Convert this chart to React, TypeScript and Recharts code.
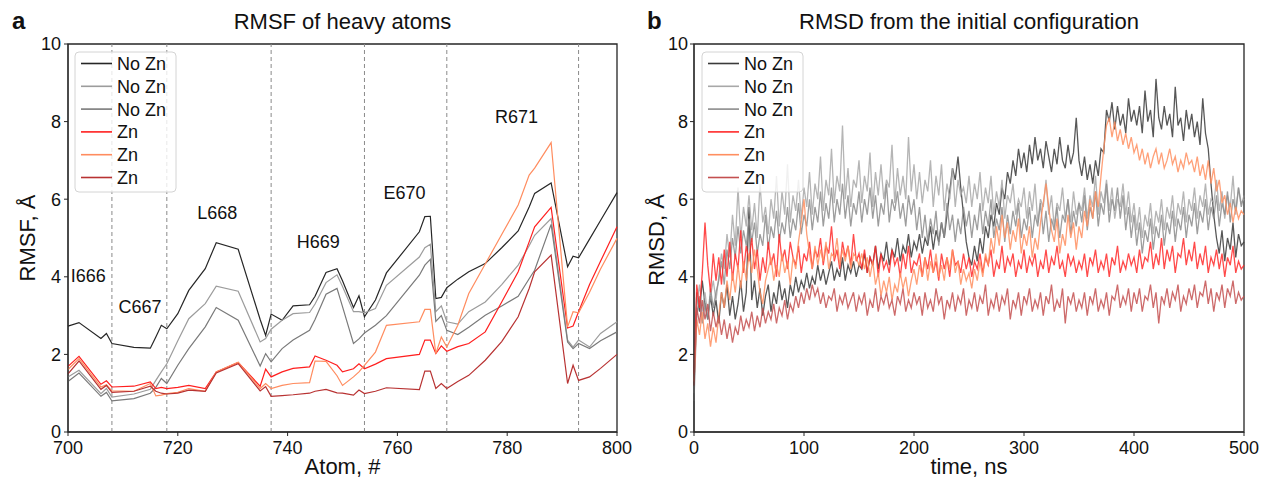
import React from "react";
import {
  Label,
  Line,
  LineChart,
  ReferenceArea,
  ReferenceDot,
  ReferenceLine,
  XAxis,
  YAxis,
} from "recharts";

// ---- panel a: RMSF per heavy atom ----
const ATOMS = [
  700, 702, 706, 707, 708, 712, 715, 716, 717, 718,
  720, 722, 725, 727, 731, 735, 736, 737, 739, 741,
  744, 745, 747, 749, 750, 752, 753, 754, 756, 758,
  764, 765, 766, 767, 768, 769, 771, 773, 776, 779,
  782, 784, 785, 788, 791, 792, 793, 795, 797, 800,
];
const RMSF_NOZN_1 = [
  2.73, 2.82, 2.41, 2.54, 2.28, 2.18, 2.16, 2.45, 2.75, 2.66,
  3.05, 3.65, 4.21, 4.88, 4.71, 2.9, 2.49, 3.04, 2.88, 3.25,
  3.28, 3.5, 4.11, 4.21, 3.9, 3.21, 3.51, 2.97, 3.4, 4.1,
  5.16, 5.55, 5.56, 3.44, 3.47, 3.72, 3.94, 4.13, 4.34, 4.75,
  5.18, 5.8, 6.15, 6.42, 4.26, 4.53, 4.49, 4.97, 5.45, 6.17,
];
const RMSF_NOZN_2 = [
  1.42, 1.59, 0.99, 1.12, 0.9, 0.98, 1.1, 1.33, 1.55, 1.76,
  2.35, 2.92, 3.31, 3.76, 3.63, 2.32, 2.41, 2.65, 2.88, 3.05,
  3.08, 3.3, 3.85, 4.05, 3.75, 3.1, 3.1, 3.07, 3.18, 3.78,
  4.51, 4.75, 4.84, 3.1, 3.25, 2.84, 2.78, 3.1, 3.35, 3.8,
  4.3, 4.8, 5.07, 5.5, 2.37, 2.19, 2.37, 2.19, 2.54, 2.84,
];
const RMSF_NOZN_3 = [
  1.3, 1.52, 0.92, 1.02, 0.8, 0.86, 1.0, 1.15, 1.38, 1.25,
  1.72, 2.15, 2.71, 3.21, 2.88, 1.7, 2.02, 1.81, 2.15, 2.37,
  2.62, 2.9, 3.55, 3.7, 3.23, 2.28, 2.4, 2.55, 2.75, 3.0,
  4.04, 4.3, 4.45, 2.85, 3.0, 2.62, 2.51, 2.7, 3.01, 3.25,
  3.5, 3.95, 4.17, 5.35, 2.32, 2.15, 2.28, 2.15, 2.35, 2.58,
];
const RMSF_ZN_1 = [
  1.69, 1.95, 1.23, 1.32, 1.16, 1.18, 1.29, 1.12, 1.15, 1.12,
  1.15, 1.2, 1.12, 1.55, 1.79, 1.18, 1.62, 1.42, 1.55, 1.64,
  1.68, 1.96, 1.85, 1.72, 1.55, 1.63, 1.76, 1.63, 1.75, 1.89,
  2.0, 2.37, 2.37, 2.02, 2.22, 2.08, 2.2, 2.28, 2.58, 3.35,
  4.13, 4.9, 5.29, 5.79, 2.68, 2.73, 3.1, 3.8, 4.4, 5.29,
];
const RMSF_ZN_2 = [
  1.61, 1.89, 1.16, 1.22, 1.06, 1.05, 1.25, 0.93, 0.95, 0.99,
  1.02, 1.12, 1.05, 1.55, 1.8, 1.12, 1.25, 1.12, 1.2, 1.25,
  1.27, 1.83, 1.82, 1.45, 1.2, 1.42, 1.55, 1.72, 2.06, 2.75,
  2.84, 3.16, 3.16, 2.02, 2.45, 2.19, 2.75, 3.57, 4.33, 5.09,
  5.85, 6.62, 6.8, 7.46, 2.71, 3.1, 3.07, 3.6, 4.2, 4.99,
];
const RMSF_ZN_3 = [
  1.5, 1.83, 1.1, 1.2, 1.02, 1.05, 1.18, 1.05, 1.0, 0.98,
  1.0, 1.08, 1.05, 1.52, 1.76, 1.06, 1.17, 0.92, 0.94, 0.96,
  1.0, 1.05, 1.1, 1.01, 1.0, 0.95, 1.08, 0.99, 1.05, 1.14,
  1.09, 1.57, 1.57, 1.12, 1.25, 1.12, 1.3, 1.46, 1.85, 2.33,
  2.97, 3.7, 4.13, 4.56, 1.25, 1.72, 1.33, 1.42, 1.64, 2.0,
];
const RESIDUE_BOUNDARIES = [708, 718, 737, 754, 769, 793];
const RESIDUE_NAMES = ["I666", "C667", "L668", "H669", "E670", "R671"];
const RESIDUE_NAME_X = [703.7, 713.1, 727.2, 745.6, 761.3, 781.7];
const RESIDUE_NAME_Y = [4.04, 3.22, 5.65, 4.9, 6.17, 8.14];
const ATOM_TICKS = [700, 720, 740, 760, 780, 800];

// ---- panel b: RMSD vs time, one frame every 2.5 ns ----
const TIME_NS = Array.from({ length: 201 }, (_, i) => i * 2.5);
const RMSD_NOZN_1 = [
  1.2,
  3.6, 3.1, 3.9, 3.3, 2.9, 3.5, 3.0, 3.4,
  2.8, 3.6, 3.2, 3.8, 3.0, 3.5, 2.9, 3.3, 3.9, 3.1, 3.6, 5.8,
  3.4, 3.9, 3.2, 3.7, 3.0, 3.5, 3.8, 3.1, 3.6, 3.3, 3.9, 3.4, 3.7, 3.2, 3.8, 3.5, 4.0, 3.6, 3.9, 3.7,
  4.1, 3.7, 4.0, 3.8, 4.3, 3.9, 4.2, 3.8, 4.1, 4.4, 3.9, 4.2, 4.0, 4.5, 3.9, 4.3, 4.1, 4.4, 4.0, 4.3,
  4.2, 4.6, 4.1, 4.5, 4.3, 4.8, 4.2, 4.6, 4.4, 4.9, 4.3, 4.7, 4.5, 5.0, 4.4, 4.8, 4.6, 5.1, 4.5, 4.9,
  4.7, 5.1, 4.6, 5.0, 4.8, 5.3, 4.7, 5.2, 4.9, 5.4, 5.0, 5.6, 6.2, 6.8, 6.5, 7.1, 6.3, 5.6, 4.9, 4.5,
  4.3, 4.8, 4.4, 5.0, 4.6, 5.3, 5.0, 5.6, 5.3, 5.9, 5.6, 6.3, 6.0, 6.7, 6.4, 7.0, 6.6, 7.3, 6.8, 7.2,
  6.7, 7.4, 6.9, 7.6, 7.0, 7.3, 6.8, 7.5, 7.1, 6.7, 7.3, 6.9, 7.6, 7.0, 6.8, 7.4, 6.9, 7.2, 8.1, 7.0,
  6.6, 7.1, 6.5, 6.9, 6.4, 7.0, 6.6, 7.3, 7.2, 8.3, 8.0, 8.5, 7.8, 8.4, 7.9, 8.2, 7.7, 8.6, 8.0, 8.3,
  7.9, 8.4, 7.7, 8.8, 8.0, 8.3, 7.6, 9.1, 8.1, 7.8, 8.4, 7.9, 8.2, 7.6, 8.9, 7.9, 8.1, 7.5, 8.3, 7.8,
  8.2, 7.6, 8.0, 7.4, 8.6, 7.7, 7.3, 6.4, 5.6, 5.0, 4.6, 5.2, 4.4, 5.0, 4.7, 5.4, 4.5, 5.1, 4.8, 4.9,
];
const RMSD_NOZN_2 = [
  1.0,
  3.3, 3.8, 3.1, 3.6, 3.0, 3.5, 3.9, 3.4,
  4.0, 4.6, 4.2, 5.1, 4.5, 5.6, 4.8, 6.3, 5.0, 5.8, 5.3, 6.1,
  5.2, 5.9, 5.0, 6.4, 5.4, 5.8, 5.1, 6.0, 5.5, 6.6, 5.3, 6.2, 5.6, 6.9, 5.4, 6.1, 5.7, 6.5, 5.5, 6.3,
  5.8, 6.7, 5.6, 6.4, 6.0, 7.1, 5.7, 6.5, 6.1, 7.3, 5.9, 6.6, 6.2, 7.9, 6.0, 6.8, 5.8, 6.5, 6.3, 7.0,
  5.9, 6.6, 6.2, 7.2, 5.8, 6.7, 6.1, 6.9, 6.0, 6.5, 6.3, 7.4, 5.9, 6.8, 6.1, 6.6, 6.0, 7.6, 6.2, 6.9,
  6.0, 6.7, 5.9, 6.5, 6.2, 7.0, 5.8, 6.6, 6.1, 6.9, 5.7, 6.4, 6.0, 6.8, 5.8, 6.5, 6.1, 6.3, 5.9, 6.6,
  5.8, 6.4, 6.0, 6.7, 5.7, 6.3, 5.9, 6.6, 5.6, 6.2, 5.8, 6.5, 5.5, 6.1, 5.9, 6.4, 5.6, 6.0, 5.8, 6.3,
  5.5, 6.2, 5.7, 6.4, 5.4, 6.0, 5.8, 6.5, 5.6, 6.1, 5.3, 5.9, 5.7, 6.3, 5.5, 6.0, 5.4, 6.2, 5.6, 5.9,
  5.7, 6.3, 5.5, 6.1, 5.8, 6.6, 5.6, 6.2, 5.9, 6.5, 5.7, 6.3, 5.5, 6.0, 5.8, 6.4, 5.6, 6.2, 5.4, 5.9,
  5.2, 5.8, 5.0, 5.6, 5.3, 5.9, 5.1, 5.7, 5.4, 6.0, 5.2, 5.8, 5.5, 6.1, 5.3, 5.9, 5.6, 6.2, 5.4, 6.0,
  5.7, 6.3, 5.5, 6.1, 5.8, 6.4, 5.6, 6.0, 5.9, 6.5, 5.7, 6.2, 5.5, 6.1, 5.8, 6.6, 5.6, 6.3, 5.9, 6.0,
];
const RMSD_NOZN_3 = [
  0.8,
  3.0, 3.5, 2.8, 3.3, 2.9, 3.7, 3.2, 3.6,
  3.9, 4.4, 3.8, 4.7, 4.2, 5.0, 4.5, 5.3, 4.6, 5.2, 4.8, 5.5,
  4.9, 5.4, 4.6, 5.1, 4.8, 5.6, 4.7, 5.3, 5.0, 5.7, 4.9, 5.4, 5.1, 5.8, 5.0, 5.5, 5.2, 5.9, 5.1, 5.6,
  5.3, 6.0, 5.2, 5.8, 5.4, 6.2, 5.3, 5.9, 5.5, 6.3, 5.4, 6.0, 5.6, 6.4, 5.5, 6.1, 5.3, 5.9, 5.6, 6.2,
  5.4, 6.0, 5.6, 6.3, 5.5, 6.1, 5.3, 5.9, 5.6, 6.4, 5.4, 6.0, 5.7, 6.2, 5.5, 5.9, 5.3, 6.1, 5.6, 6.0,
  5.2, 5.8, 5.0, 5.6, 4.9, 5.5, 5.1, 5.7, 4.8, 5.4, 5.0, 5.9, 5.2, 5.6, 4.9, 5.5, 5.1, 5.8, 5.3, 5.7,
  5.0, 5.6, 5.2, 5.9, 5.1, 5.7, 5.3, 6.0, 5.0, 5.5, 5.2, 5.8, 4.9, 5.6, 5.1, 5.7, 5.3, 5.9, 5.0, 5.5,
  5.2, 5.8, 5.0, 5.6, 5.3, 5.9, 5.1, 5.7, 4.9, 5.5, 5.2, 5.8, 5.0, 5.6, 5.4, 6.0, 5.1, 5.7, 5.3, 5.9,
  5.4, 6.1, 5.2, 5.8, 5.5, 6.2, 5.3, 5.9, 5.6, 6.4, 5.4, 6.0, 5.7, 6.3, 5.5, 6.1, 5.2, 5.8, 5.0, 5.6,
  4.8, 5.4, 4.6, 5.2, 4.9, 5.5, 4.7, 5.3, 5.0, 5.6, 4.8, 5.4, 5.1, 5.7, 4.9, 5.5, 5.2, 5.8, 5.0, 5.6,
  5.3, 5.9, 5.1, 5.7, 5.4, 6.0, 5.2, 5.8, 5.5, 6.1, 5.3, 5.9, 5.6, 6.2, 5.4, 6.0, 5.7, 6.3, 5.8, 6.1,
];
const RMSD_ZN_1 = [
  1.5,
  3.8, 3.2, 4.1, 5.4, 4.3, 3.6, 4.6, 3.9,
  4.5, 3.8, 4.7, 4.0, 4.9, 3.9, 4.6, 4.2, 5.2, 4.1, 4.8, 4.4,
  5.0, 4.2, 4.7, 3.9, 4.5, 4.1, 4.9, 4.3, 4.6, 4.0, 5.1, 4.4, 4.7, 4.2, 4.9, 4.5, 4.3, 4.8, 4.1, 4.6,
  4.4, 4.9, 4.2, 4.7, 4.5, 5.0, 4.3, 4.8, 4.6, 5.3, 4.4, 4.7, 4.2, 4.9, 4.5, 4.8, 4.3, 5.1, 4.4, 4.6,
  4.2, 4.7, 4.1, 4.5, 4.3, 4.8, 4.0, 4.6, 4.2, 4.4, 4.1, 4.7, 4.3, 4.5, 4.0, 4.6, 4.2, 4.8, 4.1, 4.4,
  4.3, 4.6, 4.0, 4.5, 4.2, 4.7, 4.1, 4.4, 3.9, 4.6, 4.2, 4.5, 4.0, 4.7, 4.3, 4.4, 4.1, 4.6, 4.2, 4.5,
  4.0, 4.4, 4.2, 4.6, 4.1, 4.5, 4.3, 4.7, 4.0, 4.4, 4.2, 4.8, 4.1, 4.5, 4.3, 4.6, 4.0, 4.4, 4.2, 4.7,
  4.1, 4.5, 4.3, 4.6, 4.0, 4.4, 4.2, 4.7, 4.1, 4.5, 4.3, 4.8, 4.2, 4.4, 4.0, 4.6, 4.3, 4.5, 4.1, 4.4,
  4.2, 4.6, 4.0, 4.5, 4.3, 4.7, 4.1, 4.4, 4.2, 4.6, 4.0, 4.5, 4.3, 4.8, 4.1, 4.4, 4.2, 4.6, 4.3, 4.5,
  4.1, 4.7, 4.2, 4.5, 4.4, 4.9, 4.2, 4.6, 4.3, 5.0, 4.2, 4.7, 4.4, 4.8, 4.1, 4.6, 4.5, 5.0, 4.3, 4.7,
  4.4, 4.9, 4.2, 4.6, 4.3, 4.8, 4.1, 4.5, 4.3, 4.7, 4.2, 4.6, 4.0, 4.5, 4.3, 4.8, 4.1, 4.4, 4.2, 4.3,
];
const RMSD_ZN_2 = [
  1.3,
  2.9, 2.5, 3.1, 2.4, 2.8, 2.2, 2.7, 2.3,
  3.0, 3.6, 3.2, 3.9, 3.4, 4.1, 3.6, 4.3, 3.7, 4.4, 3.9, 4.6,
  4.1, 4.7, 4.2, 3.6, 3.3, 3.9, 4.2, 4.5, 3.9, 4.3, 4.0, 4.6, 4.1, 4.4, 3.8, 4.5, 4.2, 4.9, 5.4, 6.0,
  5.1, 4.6, 4.2, 4.8, 4.3, 4.7, 4.4, 4.9, 4.2, 4.6, 4.5, 5.0, 4.3, 4.7, 4.4, 4.8, 4.2, 4.6, 4.5, 4.3,
  4.6, 4.2, 4.5, 4.0, 4.4, 3.8, 4.1, 3.5, 3.9, 3.6, 4.0, 3.4, 3.8, 3.6, 4.1, 3.7, 4.0, 3.5, 3.9, 4.2,
  3.8, 4.3, 4.0, 4.5, 3.9, 4.4, 4.1, 4.6, 4.0, 4.3, 3.9, 4.5, 4.2, 4.7, 4.1, 4.4, 3.8, 4.2, 3.9, 4.1,
  3.7, 4.2, 3.9, 4.4, 4.0, 4.6, 4.3, 5.0, 4.6, 5.3, 4.8, 5.6, 5.0, 5.4, 4.7, 5.2, 4.9, 5.5, 4.6, 5.1,
  4.8, 5.3, 4.5, 5.0, 4.7, 5.4, 5.9, 6.4, 5.8, 5.2, 4.9, 5.5, 4.6, 5.1, 4.8, 5.6, 5.0, 5.4, 4.7, 5.3,
  5.0, 5.7, 5.3, 6.0, 5.5, 6.2, 5.8, 6.6, 7.3, 7.9, 8.1, 7.6, 8.0, 7.5, 7.8, 7.4, 7.7, 7.3, 7.6, 7.2,
  7.4, 7.0, 7.3, 6.9, 7.2, 6.8, 7.1, 7.3, 6.9, 7.2, 6.8, 7.0, 7.3, 6.9, 7.1, 6.7, 7.0, 6.8, 7.2, 6.9,
  7.0, 6.7, 7.1, 6.6, 6.9, 6.5, 7.0, 6.4, 6.8, 6.2, 6.5, 5.9, 6.1, 5.6, 5.9, 5.4, 5.8, 5.5, 5.7, 5.6,
];
const RMSD_ZN_3 = [
  1.2,
  3.2, 2.8, 3.4, 2.9, 3.3, 2.6, 3.1, 2.7,
  3.0, 2.5, 2.9, 2.4, 2.8, 2.3, 2.7, 2.5, 3.0, 2.6, 2.9, 2.7,
  3.1, 2.6, 3.0, 2.7, 3.2, 2.8, 3.1, 2.9, 3.3, 2.8, 3.2, 3.0, 3.4, 2.9, 3.3, 3.1, 3.5, 3.2, 3.6, 3.3,
  3.7, 3.4, 3.8, 3.5, 3.7, 3.3, 3.6, 3.2, 3.5, 3.4, 3.7, 3.1, 3.5, 3.3, 3.6, 3.2, 3.4, 3.6, 3.1, 3.5,
  3.3, 3.6, 3.0, 3.4, 3.2, 3.7, 3.1, 3.5, 3.3, 3.6, 3.2, 3.4, 3.0, 3.5, 3.3, 3.7, 3.1, 3.4, 3.2, 3.6,
  3.3, 3.5, 3.0, 3.6, 3.2, 3.4, 3.1, 3.7, 3.3, 3.5, 2.9, 3.4, 3.2, 3.6, 3.1, 3.5, 3.3, 3.7, 3.0, 3.4,
  3.2, 3.6, 3.1, 3.5, 3.3, 3.8, 3.0, 3.4, 3.2, 3.6, 3.1, 3.5, 3.3, 3.7, 2.9, 3.4, 3.2, 3.6, 3.0, 3.5,
  3.3, 3.7, 3.1, 3.4, 3.2, 3.6, 3.0, 3.5, 3.3, 3.8, 3.1, 3.4, 3.2, 3.7, 2.8, 3.5, 3.3, 3.6, 3.1, 3.4,
  3.2, 3.6, 3.0, 3.5, 3.3, 3.7, 3.1, 3.4, 3.2, 3.6, 3.0, 3.5, 3.4, 3.8, 3.2, 3.5, 3.3, 3.7, 3.1, 3.6,
  3.3, 3.7, 3.1, 3.5, 3.4, 3.8, 3.2, 3.6, 2.8, 3.5, 3.3, 3.7, 3.2, 3.6, 3.4, 3.8, 3.1, 3.5, 3.3, 3.7,
  3.4, 3.8, 3.2, 3.6, 3.5, 3.9, 3.3, 3.7, 3.1, 3.6, 3.4, 3.8, 3.2, 3.7, 3.5, 3.9, 3.3, 3.6, 3.4, 3.5,
];
const TIME_TICKS = [0, 100, 200, 300, 400, 500];
const VALUE_TICKS = [0, 2, 4, 6, 8, 10];

const LEGEND_NAMES = ["No Zn", "No Zn", "No Zn", "Zn", "Zn", "Zn"];
const KEYS = ["noZn1", "noZn2", "noZn3", "zn1", "zn2", "zn3"];
const COLORS_A = ["#262626", "#9c9c9c", "#7a7a7a", "#ff1f1f", "#ff8c5f", "#b83232"];
const COLORS_B = ["#3a3a3a", "#a8a8a8", "#8c8c8c", "#ff2a2a", "#ff8f60", "#c45050"];

const rmsfRows = ATOMS.map((atom, i) => ({
  atom,
  noZn1: RMSF_NOZN_1[i],
  noZn2: RMSF_NOZN_2[i],
  noZn3: RMSF_NOZN_3[i],
  zn1: RMSF_ZN_1[i],
  zn2: RMSF_ZN_2[i],
  zn3: RMSF_ZN_3[i],
}));

const rmsdRows = TIME_NS.map((t, i) => ({
  t,
  noZn1: RMSD_NOZN_1[i],
  noZn2: RMSD_NOZN_2[i],
  noZn3: RMSD_NOZN_3[i],
  zn1: RMSD_ZN_1[i],
  zn2: RMSD_ZN_2[i],
  zn3: RMSD_ZN_3[i],
}));

const AXIS = "#262626";
const TEXT = "#111111";
const tickStyle = { fontSize: 18, fill: TEXT };

function LegendBox({ x, y, colors }: { x: number; y: number; colors: string[] }) {
  return (
    <g>
      <rect x={x} y={y} width={101} height={140} rx={4} fill="#ffffff" fillOpacity={0.8} stroke="#d4d4d4" />
      {LEGEND_NAMES.map((name, i) => {
        const cy = y + 11.5 + i * 22.8;
        return (
          <g key={i}>
            <line x1={x + 6} x2={x + 37} y1={cy} y2={cy} stroke={colors[i]} strokeWidth={1.6} />
            <text x={x + 42} y={cy + 6.4} fontSize={18} fill={TEXT}>
              {name}
            </text>
          </g>
        );
      })}
    </g>
  );
}

function RotatedLabel({ text, cx, cy }: { text: string; cx: number; cy: number }) {
  return (
    <text
      x={cx}
      y={cy}
      transform={`rotate(-90 ${cx} ${cy})`}
      textAnchor="middle"
      dy="0.36em"
      fontSize={22}
      fill={TEXT}
    >
      {text}
    </text>
  );
}

export default function App() {
  return (
    <div
      style={{
        position: "absolute",
        left: 0,
        top: 0,
        width: 1262,
        height: 478,
        background: "#ffffff",
        fontFamily: '"Liberation Sans", Arial, sans-serif',
      }}
    >
      <div style={{ position: "absolute", left: 0, top: 0 }}>
        <LineChart width={645} height={478} data={rmsfRows} margin={{ top: 44, right: 28, bottom: 0, left: 0 }}>
          <XAxis
            type="number"
            dataKey="atom"
            domain={[700, 800]}
            ticks={ATOM_TICKS}
            interval={0}
            tick={tickStyle}
            tickSize={4}
            tickMargin={5}
            stroke={AXIS}
            height={46}
          >
            <Label value="Atom, #" position="insideBottom" offset={4} style={{ fontSize: 22, fill: TEXT }} />
          </XAxis>
          <YAxis
            type="number"
            domain={[0, 10]}
            ticks={VALUE_TICKS}
            interval={0}
            tick={tickStyle}
            tickSize={4}
            tickMargin={3}
            stroke={AXIS}
            width={68}
          >
            <Label content={() => <RotatedLabel text="RMSF, Å" cx={27} cy={238} />} />
          </YAxis>
          {RESIDUE_BOUNDARIES.map((x) => (
            <ReferenceLine key={x} x={x} stroke="#8a8a8a" strokeDasharray="4 3" strokeWidth={1} />
          ))}
          {KEYS.map((k, i) => (
            <Line
              key={k}
              type="linear"
              dataKey={k}
              stroke={COLORS_A[i]}
              strokeWidth={1.2}
              dot={false}
              isAnimationActive={false}
            />
          ))}
          {RESIDUE_NAMES.map((name, i) => (
            <ReferenceDot
              key={name}
              x={RESIDUE_NAME_X[i]}
              y={RESIDUE_NAME_Y[i]}
              r={1}
              fill="none"
              stroke="none"
              label={{ value: name, position: "center", fontSize: 18, fill: TEXT }}
            />
          ))}
          <ReferenceArea x1={700} x2={800} y1={0} y2={10} fill="none" stroke={AXIS} strokeWidth={1.3} />
        </LineChart>
      </div>

      <div style={{ position: "absolute", left: 630, top: 0 }}>
        <LineChart width={632} height={478} data={rmsdRows} margin={{ top: 44, right: 18, bottom: 0, left: 0 }}>
          <XAxis
            type="number"
            dataKey="t"
            domain={[0, 500]}
            ticks={TIME_TICKS}
            interval={0}
            tick={tickStyle}
            tickSize={4}
            tickMargin={5}
            stroke={AXIS}
            height={46}
          >
            <Label value="time, ns" position="insideBottom" offset={4} style={{ fontSize: 22, fill: TEXT }} />
          </XAxis>
          <YAxis
            type="number"
            domain={[0, 10]}
            ticks={VALUE_TICKS}
            interval={0}
            tick={tickStyle}
            tickSize={4}
            tickMargin={2}
            stroke={AXIS}
            width={64}
          >
            <Label content={() => <RotatedLabel text="RMSD, Å" cx={26} cy={240} />} />
          </YAxis>
          {KEYS.map((k, i) => (
            <Line
              key={k}
              type="linear"
              dataKey={k}
              stroke={COLORS_B[i]}
              strokeOpacity={0.85}
              strokeWidth={1.3}
              dot={false}
              isAnimationActive={false}
            />
          ))}
          <ReferenceArea x1={0} x2={500} y1={0} y2={10} fill="none" stroke={AXIS} strokeWidth={1.3} />
        </LineChart>
      </div>

      <svg
        width={1262}
        height={478}
        style={{ position: "absolute", left: 0, top: 0, pointerEvents: "none" }}
      >
        <text x={12} y={29} fontSize={24} fontWeight="bold" fill={TEXT}>
          a
        </text>
        <text x={342.5} y={29} textAnchor="middle" fontSize={22} fill={TEXT}>
          RMSF of heavy atoms
        </text>
        <text x={647} y={29} fontSize={24} fontWeight="bold" fill={TEXT}>
          b
        </text>
        <text x={969} y={29} textAnchor="middle" fontSize={22} fill={TEXT}>
          RMSD from the initial configuration
        </text>
        <LegendBox x={75} y={52} colors={COLORS_A} />
        <LegendBox x={702} y={52} colors={COLORS_B} />
      </svg>
    </div>
  );
}
